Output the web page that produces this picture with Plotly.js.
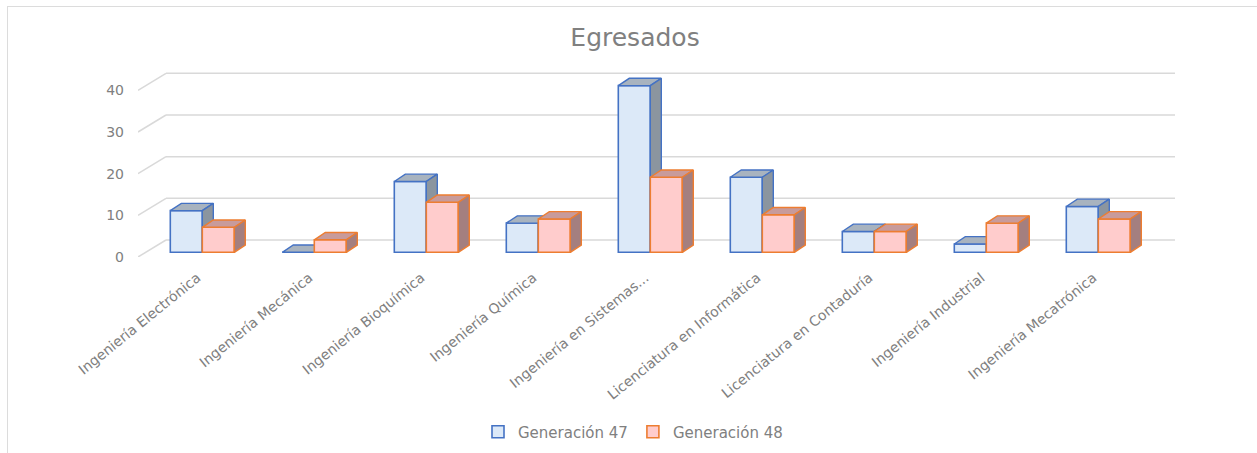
<!DOCTYPE html>
<html><head><meta charset="utf-8">
<script src="https://cdn.plot.ly/plotly-3.0.1.min.js"></script>
<style>
html,body{margin:0;padding:0;background:#fff;overflow:hidden}
#chart{width:1257px;height:453px;position:absolute;left:0;top:0}
#frame{position:absolute;left:7px;top:6px;width:1270px;height:470px;border:1.5px solid #dcdcdc;pointer-events:none}
</style></head><body>
<div id="chart"></div><div id="frame"></div>
<script>
// ---- data ----
const categories = ['Ingeniería Electrónica','Ingeniería Mecánica','Ingeniería Bioquímica','Ingeniería Química','Ingeniería en Sistemas...','Licenciatura en Informática','Licenciatura en Contaduría','Ingeniería Industrial','Ingeniería Mecatrónica'];
const gen47 = [10, 0, 17, 7, 40, 18, 5, 2, 11];
const gen48 = [6, 3, 12, 8, 18, 9, 5, 7, 8];
const seriesNames = ['Generación 47', 'Generación 48'];
const yTicks = [0, 10, 20, 30, 40];
const chartTitle = 'Egresados';

// ---- layout geometry (pixels) ----
const plotL = 138, plotR = 1175, plotT = 60, plotB = 257;
const pxPerCat = 112, firstCenter = 202.3, pxPerUnit = 4.167;
const xMin = -(firstCenter - plotL) / pxPerCat;
const xMax = xMin + (plotR - plotL) / pxPerCat;
const yMax = (plotB - plotT) / pxPerUnit;
const barW = 32 / pxPerCat;
const barBase = (plotB - 252.3) / pxPerUnit;
const dX = 11 / pxPerCat, dY = 7.3 / pxPerUnit;
const wallDX = 28 / pxPerCat, wallDY = 17 / pxPerUnit;

const styles = [
  {front:'#dce9f8', top:'#a8b3bf', side:'#8b959f', line:'#4472c4'},
  {front:'#ffcccc', top:'#c89b9b', side:'#a47f7f', line:'#ed7d31'}
];
const font = 'DejaVu Sans';
const txt = '#808080';

const idx = categories.map((_, i) => i);
const traces = [];
[gen47, gen48].forEach((vals, s) => {
  const st = styles[s];
  const off = s === 0 ? -barW / 2 : barW / 2;
  const xa = s === 0 ? 'x' : 'x2', ya = s === 0 ? 'y' : 'y2';
  traces.push({
    type:'bar', name: seriesNames[s], x: idx.map(i => i + off), y: vals,
    base: barBase, width: barW, xaxis: xa, yaxis: ya,
    marker:{color: st.front, line:{color: st.line, width:1.6}},
    cliponaxis:false, hovertemplate: '%{y}<extra>' + seriesNames[s] + '</extra>'
  });
  const tx = [], ty = [], sx = [], sy = [];
  vals.forEach((v, i) => {
    const xl = i + off - barW / 2, xr = i + off + barW / 2, h = barBase + v;
    tx.push(xl, xr, xr + dX, xl + dX, xl, null);
    ty.push(h, h, h + dY, h + dY, h, null);
    sx.push(xr, xr, xr + dX, xr + dX, xr, null);
    sy.push(barBase, h, h + dY, barBase + dY, barBase, null);
  });
  traces.push({type:'scatter', mode:'lines', x: tx, y: ty, fill:'toself', fillcolor: st.top,
    line:{color: st.line, width:1.4}, xaxis: xa, yaxis: ya, showlegend:false, hoverinfo:'skip', cliponaxis:false});
  traces.push({type:'scatter', mode:'lines', x: sx, y: sy, fill:'toself', fillcolor: st.side,
    line:{color: st.line, width:1.4}, xaxis: xa, yaxis: ya, showlegend:false, hoverinfo:'skip', cliponaxis:false});
});

// back-wall gridlines and floor diagonals
const shapes = [];
yTicks.forEach(t => {
  shapes.push({type:'line', xref:'x', yref:'y', layer:'below', x0: xMin + wallDX, x1: xMax, y0: t + wallDY, y1: t + wallDY, line:{color:'#d9d9d9', width:1.5}});
  shapes.push({type:'line', xref:'x', yref:'y', layer:'below', x0: xMin, x1: xMin + wallDX, y0: t, y1: t + wallDY, line:{color:'#d9d9d9', width:1.5}});
});

const layout = {
  width:1257, height:453, paper_bgcolor:'#fff', plot_bgcolor:'rgba(0,0,0,0)',
  margin:{l: plotL, r: 1257 - plotR, t: plotT, b: 453 - plotB, pad:0},
  barmode:'overlay',
  font:{family: font, color: txt},
  title:{text: chartTitle, font:{family: font, size:25, color: txt}, xref:'container', yref:'container', x: 635/1257, xanchor:'center', y: 1 - 37.5/453, yanchor:'middle'},
  xaxis:{range:[xMin, xMax], tickvals: idx, ticktext: categories, tickangle:-39, showgrid:false, zeroline:false, showline:false, ticks:'', ticklabelstandoff:9, ticklabelshift:-5, tickfont:{size:14, color: txt}, fixedrange:true},
  xaxis2:{range:[xMin, xMax], overlaying:'x', visible:false, fixedrange:true},
  yaxis:{range:[0, yMax], tickvals: yTicks, showgrid:false, zeroline:false, showline:false, ticks:'', ticklabelstandoff:13, tickfont:{size:14, color: txt}, fixedrange:true},
  yaxis2:{range:[0, yMax], overlaying:'y', visible:false, fixedrange:true},
  shapes: shapes,
  showlegend:true,
  legend:{orientation:'h', xref:'container', yref:'container', x: 633/1257, xanchor:'center', y: 1 - 432/453, yanchor:'middle', font:{size:15, color: txt}, itemwidth:30, traceorder:'normal'}
};

Plotly.newPlot('chart', traces, layout, {displayModeBar:false});
</script>
</body></html>
